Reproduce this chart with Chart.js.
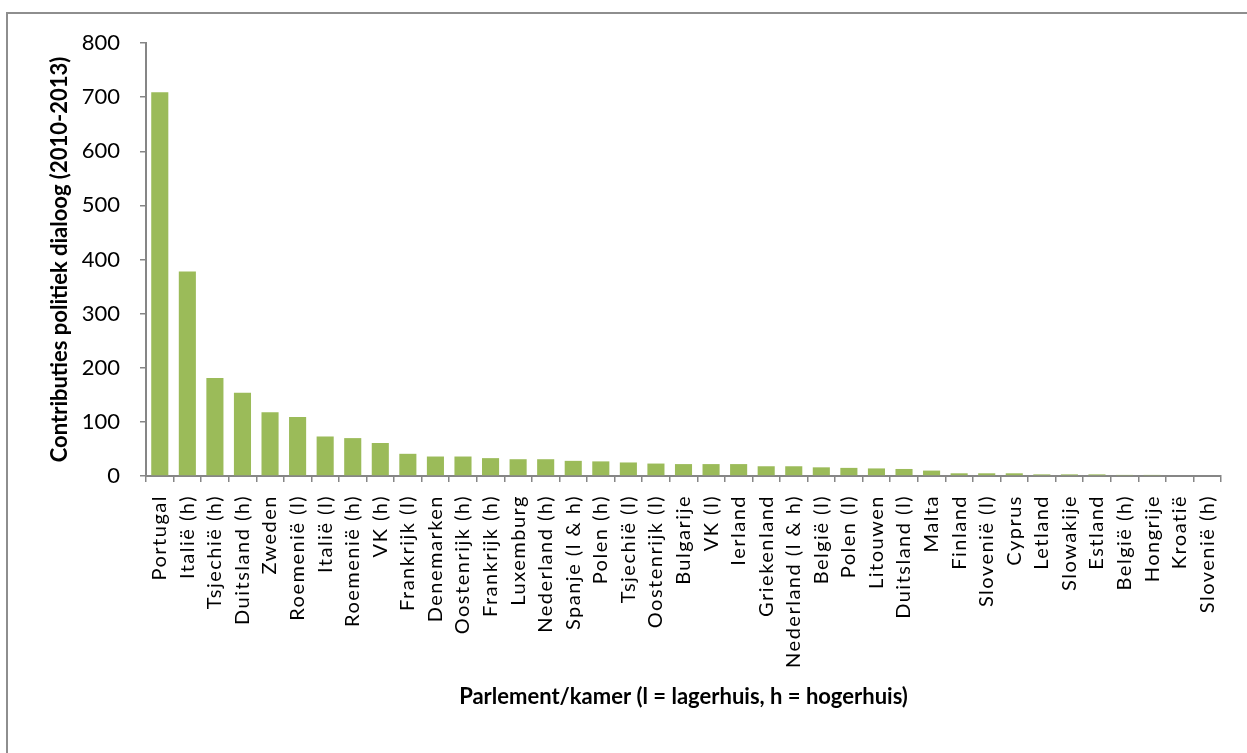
<!DOCTYPE html>
<html>
<head>
<meta charset="utf-8">
<script src="https://cdn.jsdelivr.net/npm/chart.js@4"></script>
<style>
  html, body { margin: 0; padding: 0; background: #fff; overflow: hidden; }
  #frame { position: absolute; left: 6px; top: 12px; width: 1300px; height: 800px; border: 2px solid #8e8e8e; }
  #chart { position: absolute; left: 0; top: 0; }
</style>
</head>
<body>
<div id="frame"></div>
<canvas id="chart" width="1247" height="753"></canvas>
<script>
// Data ---

const parliaments = [
  "Portugal", "Italië (h)", "Tsjechië (h)", "Duitsland (h)", "Zweden", "Roemenië (l)",
  "Italië (l)", "Roemenië (h)", "VK (h)", "Frankrijk (l)", "Denemarken", "Oostenrijk (h)",
  "Frankrijk (h)", "Luxemburg", "Nederland (h)", "Spanje (l & h)", "Polen (h)", "Tsjechië (l)",
  "Oostenrijk (l)", "Bulgarije", "VK (l)", "Ierland", "Griekenland", "Nederland (l & h)",
  "België (l)", "Polen (l)", "Litouwen", "Duitsland (l)", "Malta", "Finland", "Slovenië (l)",
  "Cyprus", "Letland", "Slowakije", "Estland", "België (h)", "Hongrije", "Kroatië", "Slovenië (h)",
];

const contributions = [
  709, 378, 181, 154, 118, 109,
  73, 70, 61, 41, 36, 36,
  33, 31, 31, 28, 27, 25,
  23, 22, 22, 22, 18, 18,
  16, 15, 14, 13, 10, 5, 5,
  5, 3, 3, 3, 2, 2, 0, 0,
];

const yTicks = [0, 100, 200, 300, 400, 500, 600, 700, 800];

// Styling ---

const AXIS_GREY = "#868686";
const BAR_GREEN = "#9bbb59";

// x labels in the original are drawn with extra spacing between letters;
// they sit in a later layer (z: 1), so switch spacing on just for them.
const spacedLabels = {
  id: "spacedLabels",
  afterDatasetsDraw(chart) {
    chart.ctx.letterSpacing = "1.5px";
  },
  afterDraw(chart) {
    chart.ctx.letterSpacing = "0px";
  },
};

const data = {
  labels: parliaments,
  datasets: [
    {
      label: "Contributies",
      data: contributions,
      backgroundColor: BAR_GREEN,
      borderWidth: 0,
      categoryPercentage: 1,
      barPercentage: 0.62,
    },
  ],
};

const options = {
  responsive: false,
  animation: false,
  layout: {
    padding: { top: 43, right: 26, bottom: 0, left: 0 },
  },
  plugins: {
    legend: { display: false },
    tooltip: { enabled: false },
  },
  scales: {
    x: {
      grid: {
        drawOnChartArea: false,
        drawTicks: true,
        tickLength: 6,
        color: AXIS_GREY,
        lineWidth: 1.5,
        offset: true,
      },
      border: { color: AXIS_GREY, width: 2 },
      ticks: {
        z: 1,
        autoSkip: false,
        minRotation: 90,
        maxRotation: 90,
        padding: 13,
        color: "#000",
        font: { family: "Lato", size: 20 },
      },
      title: {
        display: true,
        text: "Parlement/kamer (l = lagerhuis, h = hogerhuis)",
        color: "#000",
        font: { family: "Lato", size: 22, weight: "bold" },
        padding: { top: 0, bottom: 43 },
      },
      afterFit(scale) {
        scale.height = 753 - 476;
      },
    },
    y: {
      min: 0,
      max: 800,
      afterBuildTicks(scale) {
        scale.ticks = yTicks.map((v) => ({ value: v }));
      },
      grid: {
        drawOnChartArea: false,
        drawTicks: true,
        tickLength: 6,
        color: AXIS_GREY,
        lineWidth: 1.5,
      },
      border: { color: AXIS_GREY, width: 2 },
      ticks: {
        padding: 20,
        color: "#000",
        font: { family: "Lato", size: 22 },
      },
      title: {
        display: true,
        text: "Contributies politiek dialoog (2010-2013)",
        color: "#000",
        font: { family: "Lato", size: 22, weight: "bold" },
        padding: { top: 47, bottom: 0 },
      },
      afterFit(scale) {
        scale.width = 146;
      },
    },
  },
};

// Mounting ---

const chart = new Chart(document.getElementById("chart"), {
  type: "bar",
  data: data,
  options: options,
  plugins: [spacedLabels],
});
</script>
</body>
</html>
